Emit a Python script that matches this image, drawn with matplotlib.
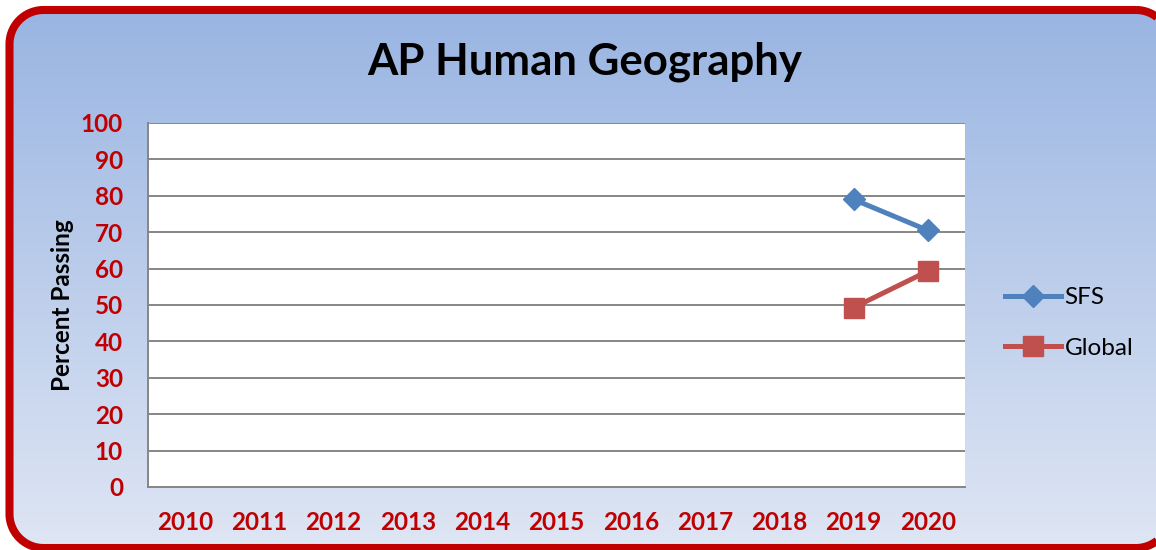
import numpy as np
import matplotlib
matplotlib.use("Agg")
import matplotlib.pyplot as plt
from matplotlib.patches import Polygon

years = ["2010", "2011", "2012", "2013", "2014", "2015", "2016", "2017", "2018", "2019", "2020"]
sfs = [None, None, None, None, None, None, None, None, None, 79, 70.5]
global_vals = [None, None, None, None, None, None, None, None, None, 49.3, 59.3]
yticks = [0, 10, 20, 30, 40, 50, 60, 70, 80, 90, 100]

W, H = 1156, 550
fig = plt.figure(figsize=(W / 100, H / 100), dpi=100)
fig.patch.set_facecolor("white")


def rounded_rect(x0, y0, x1, y1, r, n=40):
    pts = []
    corners = [(x1 - r, y0 + r, -90, 0), (x1 - r, y1 - r, 0, 90),
               (x0 + r, y1 - r, 90, 180), (x0 + r, y0 + r, 180, 270)]
    for cx, cy, a0, a1 in corners:
        a = np.radians(np.linspace(a0, a1, n))
        pts.extend(zip(cx + r * np.cos(a), cy + r * np.sin(a)))
    return np.array(pts)


# background with gradient, clipped to rounded box
bg = fig.add_axes([0, 0, 1, 1])
bg.set_xlim(0, W)
bg.set_ylim(H, 0)
bg.axis("off")
top = np.array([0x98, 0xB4, 0xE2]) / 255
bot = np.array([0xDF, 0xE6, 0xF4]) / 255
t = np.linspace(0, 1, 256)[:, None]
grad = (top[None, :] * (1 - t) + bot[None, :] * t)[:, None, :]
img = bg.imshow(grad, extent=[0, W, H, 0], aspect="auto", zorder=0)
box = Polygon(rounded_rect(9.5, 10, 1170, 548, 34), closed=True,
              facecolor="none", edgecolor="#C00000", linewidth=5.8, zorder=2,
              joinstyle="round")
bg.add_patch(box)
img.set_clip_path(box)
bg.set_xlim(0, W)
bg.set_ylim(H, 0)

ax = fig.add_axes([148 / W, 1 - 487 / H, (965 - 148) / W, (487 - 123) / H])
ax.set_facecolor("white")
x = np.arange(len(years))
sfs_arr = np.array([np.nan if v is None else v for v in sfs], dtype=float)
gl_arr = np.array([np.nan if v is None else v for v in global_vals], dtype=float)
ax.plot(x, sfs_arr, color="#4F81BD", linewidth=3.6, marker="D", markersize=11.5,
        label="SFS", zorder=3)
ax.plot(x, gl_arr, color="#C0504D", linewidth=3.6, marker="s", markersize=14.5,
        label="Global", zorder=3)
ax.set_xlim(-0.5, len(years) - 0.5)
ax.set_ylim(0, 100)
ax.set_yticks(yticks)
ax.set_xticks(x)
ax.set_xticklabels(years)
ax.yaxis.grid(True, color="#868686", linewidth=1.4)
ax.set_axisbelow(True)
for s in ["left", "bottom", "top", "right"]:
    ax.spines[s].set_color("#868686")
    ax.spines[s].set_linewidth(1.4)
ax.spines["right"].set_visible(False)
ax.spines["top"].set_visible(False)
ax.tick_params(length=0)
ax.tick_params(axis="y", pad=18)
ax.tick_params(axis="x", pad=17)
for lab in ax.get_xticklabels() + ax.get_yticklabels():
    lab.set_color("#C00000")
    lab.set_fontweight("bold")
    lab.set_fontsize(17.5)
    lab.set_family("Lato")
ax.set_ylabel("Percent Passing", fontsize=17.5, fontweight="bold", family="Lato")
ax.yaxis.set_label_coords((74 - 148) / (965 - 148), 0.5)

fig.text(585 / W, 1 - 62 / H, "AP Human Geography", ha="center", va="center",
         fontsize=31.5, fontweight="bold", family="Lato", color="black")

leg = fig.legend(loc="center left", bbox_to_anchor=(1005 / W, 1 - 323 / H), frameon=False,
                 prop={"family": "Lato", "size": 17.5}, handlelength=2.3, labelspacing=1.2,
                 handletextpad=0.15, borderpad=0, borderaxespad=0)

fig.savefig("out.png", dpi=100)
